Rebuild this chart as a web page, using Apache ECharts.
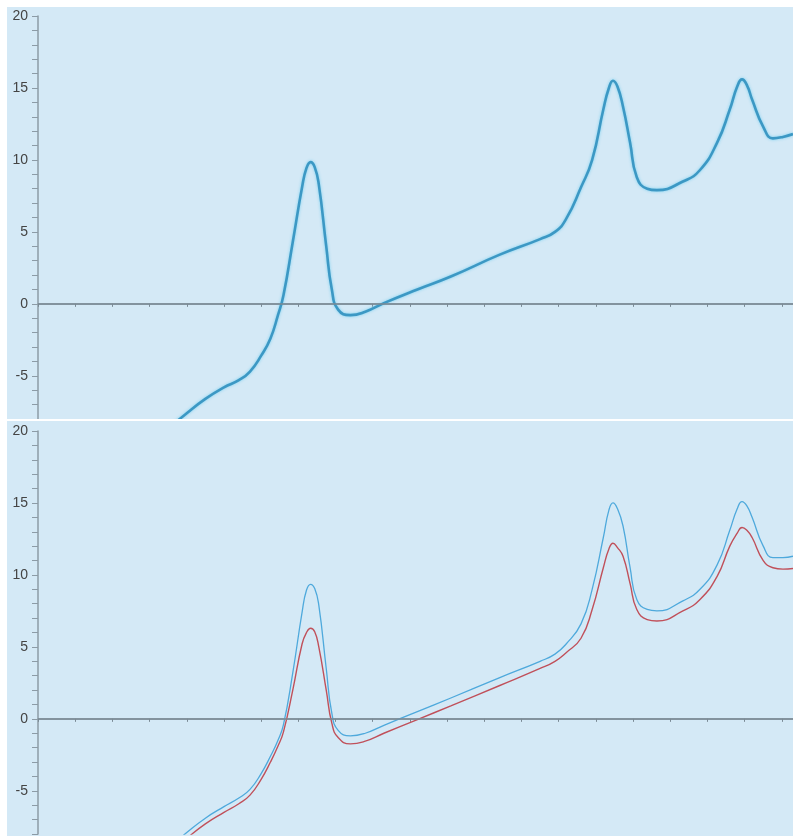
<!DOCTYPE html>
<html>
<head>
<meta charset="utf-8">
<script src="https://cdn.jsdelivr.net/npm/echarts@6/dist/echarts.min.js"></script>
<style>
  html, body { margin: 0; padding: 0; background: #fff; }
  #chart { width: 793px; height: 836px; }
</style>
</head>
<body>
<div id="chart"></div>
<script>
// x positions shared by all three curves
var xValues = [3.4, 4.0, 4.5, 5.0, 5.4, 5.7, 6.0, 6.25, 6.45, 6.6, 6.85, 7.1, 7.22, 7.33, 7.44, 7.55, 7.75, 7.9,
  8.07, 8.4, 8.8, 9.3, 10.2, 11.1, 12.4, 13.5, 13.9, 14.2, 14.6, 14.9, 15.2, 15.35, 15.46, 15.58, 15.73, 15.92,
  16.1, 16.38, 16.64, 17.34, 17.8, 18.26, 18.6, 18.8, 18.93, 19.06, 19.2, 19.5, 19.76, 20.03, 20.3];

// upper panel
var topValues = [-8.9, -7.6, -6.6, -5.8, -5.3, -4.7, -3.6, -2.4, -0.8, 0.6, 4.3, 8.1, 9.45, 9.85, 9.5, 8.3, 4.0, 1.0,
  -0.4, -0.78, -0.55, 0.05, 1.0, 1.9, 3.4, 4.5, 5.0, 5.9, 8.1, 10.0, 13.5, 15.0, 15.5, 15.1, 13.7, 11.2,
  8.8, 8.0, 7.9, 8.5, 9.3, 11.2, 13.5, 15.1, 15.6, 15.2, 14.2, 12.3, 11.5, 11.6, 11.8];

// lower panel
var blueValues = [-9.2, -7.9, -6.9, -6.1, -5.5, -4.9, -3.8, -2.6, -1.5, -0.4, 3.2, 7.4, 8.95, 9.35, 9.05, 7.9, 3.5, 0.4,
  -0.8, -1.18, -1.0, -0.45, 0.5, 1.45, 2.85, 4.0, 4.5, 5.2, 6.6, 9.0, 12.6, 14.5, 15.0, 14.6, 13.4, 10.5,
  8.3, 7.6, 7.5, 8.2, 9.0, 10.7, 13.1, 14.6, 15.1, 14.8, 14.0, 12.0, 11.2, 11.2, 11.3];
var redValues = [-9.6, -8.3, -7.3, -6.5, -5.9, -5.3, -4.2, -3.0, -1.9, -0.9, 2.0, 5.2, 6.0, 6.3, 6.05, 5.0, 2.0, -0.3,
  -1.3, -1.74, -1.55, -1.0, -0.05, 0.9, 2.3, 3.5, 4.0, 4.6, 5.6, 7.6, 10.5, 11.8, 12.2, 11.9, 11.3, 9.4,
  7.6, 6.9, 6.8, 7.5, 8.3, 9.9, 12.0, 12.9, 13.3, 13.1, 12.6, 11.0, 10.5, 10.4, 10.45];

var xMin = 0, xMax = 20.3;
var yMin = -8, yMax = 20;

function pairs(ys) {
  return xValues.map(function (x, i) { return [x, ys[i]]; });
}

var axisColor = '#8c9ba6';

function makeX(idx) {
  return {
    type: 'value', gridIndex: idx, position: 'top',
    min: xMin, max: xMax, interval: 1,
    axisLine: { show: true, lineStyle: { color: axisColor, width: 1.5 } },
    axisTick: { show: true, inside: true, length: 3, lineStyle: { color: '#7b8a95' } },
    axisLabel: { show: false },
    splitLine: { show: false }
  };
}

function makeY(idx) {
  return {
    type: 'value', gridIndex: idx,
    min: yMin, max: yMax, splitNumber: 5,
    axisLine: { show: true, lineStyle: { color: axisColor, width: 1.5 } },
    axisTick: { show: true, length: 6, lineStyle: { color: axisColor } },
    minorTick: { show: true, splitNumber: 5, length: 6, lineStyle: { color: axisColor } },
    axisLabel: {
      showMinLabel: false, margin: 10, color: '#444',
      fontFamily: 'Liberation Sans, Arial, sans-serif', fontSize: 14
    },
    splitLine: { show: false }
  };
}

var zeroLine = {
  silent: true, symbol: 'none', label: { show: false },
  lineStyle: { color: '#7a8a94', width: 1.5, type: 'solid' },
  data: [{ yAxis: 0 }]
};

var chart = echarts.init(document.getElementById('chart'));
var option = {
  backgroundColor: '#d4e9f6',
  animation: false,
  graphic: [
    { type: 'rect', z: 100, shape: { x: 0, y: 0, width: 793, height: 7 }, style: { fill: '#fff' } },
    { type: 'rect', z: 100, shape: { x: 0, y: 0, width: 7, height: 836 }, style: { fill: '#fff' } },
    { type: 'rect', z: 100, shape: { x: 0, y: 419, width: 793, height: 2 }, style: { fill: '#fff' } }
  ],
  grid: [
    { left: 38, top: 16, width: 755, height: 403 },
    { left: 38, top: 431, width: 755, height: 403 }
  ],
  xAxis: [makeX(0), makeX(1)],
  yAxis: [makeY(0), makeY(1)],
  series: [
    {
      type: 'line', xAxisIndex: 0, yAxisIndex: 0, data: pairs(topValues),
      smooth: 0.5, symbol: 'none',
      lineStyle: { color: '#3c98c4', width: 2.6, shadowColor: 'rgba(110,205,240,0.9)', shadowBlur: 3 },
      markLine: zeroLine
    },
    {
      type: 'line', xAxisIndex: 1, yAxisIndex: 1, data: pairs(blueValues),
      smooth: 0.5, symbol: 'none',
      lineStyle: { color: '#4ea9dc', width: 1.3 },
      markLine: zeroLine
    },
    {
      type: 'line', xAxisIndex: 1, yAxisIndex: 1, data: pairs(redValues),
      smooth: 0.5, symbol: 'none',
      lineStyle: { color: '#c0505a', width: 1.4 }
    }
  ]
};
chart.setOption(option);
</script>
</body>
</html>
